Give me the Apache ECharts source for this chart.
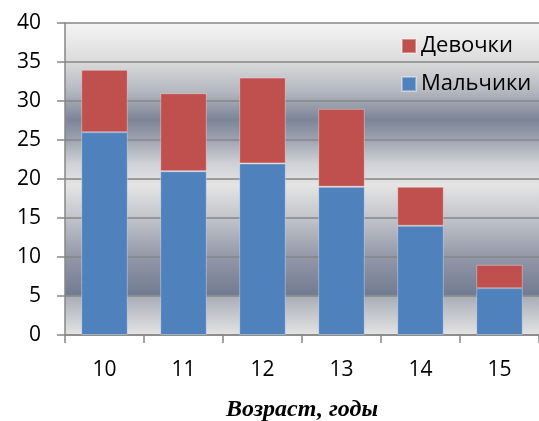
<!DOCTYPE html>
<html>
<head>
<meta charset="utf-8">
<script src="https://cdn.jsdelivr.net/npm/echarts@6/dist/echarts.min.js"></script>
<style>
html,body{margin:0;padding:0;background:#fff;}
#c{width:539px;height:421px;}
</style>
</head>
<body>
<div id="c"></div>
<script>
var categories = ['10', '11', '12', '13', '14', '15'];
var boys = [26, 21, 22, 19, 14, 6];
var girls = [8, 10, 11, 10, 5, 3];
var yTicks = { min: 0, max: 40, interval: 5 };
var seriesNames = ['Мальчики', 'Девочки'];
var axisTitle = 'Возраст, годы';

var chart = echarts.init(document.getElementById('c'), null, { renderer: 'canvas' });
var gray = '#868686';
var labelFont = '"Open Sans", "DejaVu Sans", sans-serif';
chart.setOption({
  animation: false,
  backgroundColor: '#ffffff',
  grid: {
    left: 65, top: 23, right: 0, bottom: 86,
    outerBoundsMode: 'none',
    containLabel: false,
    show: true,
    borderWidth: 0,
    backgroundColor: new echarts.graphic.LinearGradient(0, 0, 0, 1, [
      { offset: 0, color: '#f4f4f4' },
      { offset: 0.12, color: '#dcdcdc' },
      { offset: 0.22, color: '#b4b7bf' },
      { offset: 0.31, color: '#7c8497' },
      { offset: 0.37, color: '#9ca1ae' },
      { offset: 0.45, color: '#cfd1d5' },
      { offset: 0.52, color: '#e4e4e4' },
      { offset: 0.62, color: '#c4c6cc' },
      { offset: 0.75, color: '#9398a8' },
      { offset: 0.87, color: '#717b91' },
      { offset: 0.876, color: '#a9adb7' },
      { offset: 1, color: '#e4e4e4' }
    ])
  },
  legend: {
    data: [seriesNames[1], seriesNames[0]],
    orient: 'vertical',
    left: 396,
    top: 30,
    itemWidth: 14,
    itemHeight: 14,
    itemGap: 16,
    icon: 'rect',
    textStyle: { fontFamily: labelFont, fontSize: 22, color: '#000', padding: [0, 0, 0, 0] }
  },
  xAxis: {
    type: 'category',
    data: categories,
    boundaryGap: true,
    name: axisTitle,
    nameLocation: 'middle',
    nameGap: 63,
    nameTextStyle: {
      fontFamily: '"Liberation Serif", "Times New Roman", serif',
      fontStyle: 'italic', fontWeight: 'bold', fontSize: 24, color: '#000'
    },
    axisLine: { show: true, lineStyle: { color: gray, width: 1.5 } },
    axisTick: { show: true, length: 8, lineStyle: { color: gray, width: 1.5 } },
    axisLabel: { margin: 25, fontFamily: labelFont, fontSize: 21, color: '#000' },
    splitLine: { show: false }
  },
  yAxis: {
    type: 'value',
    min: yTicks.min, max: yTicks.max, interval: yTicks.interval,
    axisLine: { show: true, lineStyle: { color: gray, width: 1.5 } },
    axisTick: { show: true, length: 8, lineStyle: { color: gray, width: 1.5 } },
    axisLabel: { margin: 24, fontFamily: labelFont, fontSize: 21, color: '#000' },
    splitLine: { show: true, lineStyle: { color: gray, width: 1.5 } }
  },
  series: [
    {
      name: seriesNames[0], type: 'bar', stack: 'total', data: boys,
      barCategoryGap: '41%',
      itemStyle: { color: '#4f81bd', borderColor: 'rgba(255,255,255,0.35)', borderWidth: 1 }
    },
    {
      name: seriesNames[1], type: 'bar', stack: 'total', data: girls,
      barCategoryGap: '41%',
      itemStyle: { color: '#c0504d', borderColor: 'rgba(255,255,255,0.35)', borderWidth: 1 }
    }
  ]
});
</script>
</body>
</html>
